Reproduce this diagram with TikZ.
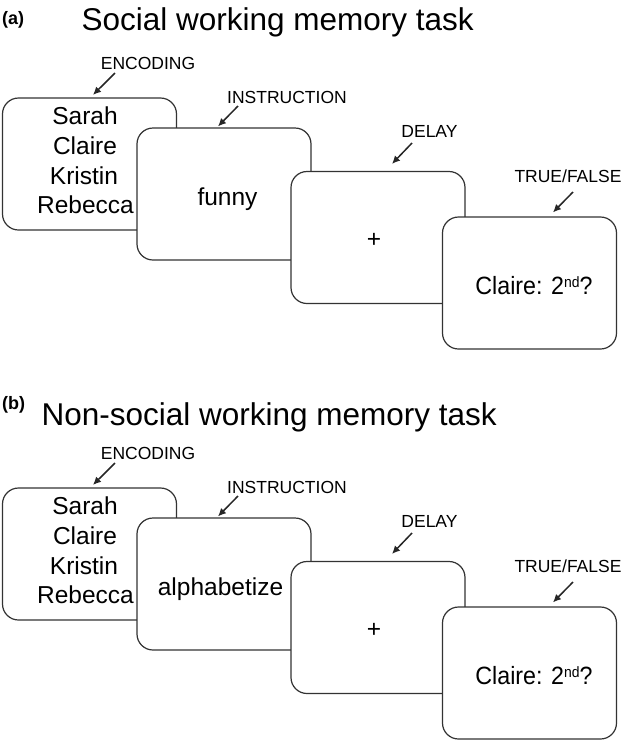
\documentclass[tikz,border=0pt]{standalone}
\usepackage{fontspec}
\setmainfont{Liberation Sans}
\usetikzlibrary{arrows.meta,calc}
\tikzset{
  card/.style={draw=black!80, line width=1.2pt, fill=white, rounded corners=16pt,
    minimum width=174pt, minimum height=132pt, inner sep=0pt},
  bigtxt/.style={font=\fontsize{24.5}{30}\selectfont, inner sep=0pt},
  steplabel/.style={font=\fontsize{17.5}{20}\selectfont, inner sep=0pt},
  pointer/.style={draw=black!85, line width=1.5pt, -{Latex[length=8pt,width=7.5pt]}},
  titletxt/.style={font=\fontsize{31.5}{36}\selectfont, inner sep=0pt, anchor=base west},
  paneltag/.style={font=\fontsize{18}{20}\selectfont\bfseries, inner sep=0pt, anchor=base west}
}
\newcommand{\qtext}{\scalebox{0.93}[1]{\fontsize{25}{28}\selectfont Claire: 2\raisebox{7.5pt}{\fontsize{15}{15}\selectfont nd}?}}
\newcommand{\taskpanel}[4]{% #1 prefix, #2 instruction word, #3 y offset, #4 word x
\begin{scope}[shift={(0,#3)}]
  % encoding card
  \node[card] (#1c1) at (89.5,164) {};
  \node[bigtxt, anchor=base] (#1n1) at (85,124) {Sarah};
  \node[bigtxt, anchor=base] (#1n2) at (85,154) {Claire};
  \node[bigtxt, anchor=base] (#1n3) at (84,184) {Kristin};
  \node[bigtxt, anchor=base] (#1n4) at (85.5,213.5) {Rebecca};
  \node[steplabel] (#1l1) at (148,63) {ENCODING};
  \draw[pointer] ($(#1l1.center)+(-33,10)$) -- ($(#1c1.north)+(3.5,-2.5)$);
  % instruction card
  \node[card] (#1c2) at (224,194) {};
  \node[bigtxt, anchor=base] (#1w) at (#4,205) {#2};
  \node[steplabel] (#1l2) at (287,97) {INSTRUCTION};
  \draw[pointer] ($(#1l2.center)+(-49,9)$) -- ($(#1c2.north)+(-6,-1)$);
  % delay card
  \node[card] (#1c3) at (378,237.5) {};
  \node[bigtxt] (#1plus) at (374,240) {+};
  \node[steplabel] (#1l3) at (429.5,131) {DELAY};
  \draw[pointer] ($(#1l3.center)+(-17.5,12)$) -- ($(#1c3.north)+(14,-7)$);
  % true/false card
  \node[card] (#1c4) at (529.5,283) {};
  \node[inner sep=0pt, anchor=base] (#1q) at (534,294.5) {\qtext};
  \node[steplabel] (#1l4) at (568,176) {TRUE/FALSE};
  \draw[pointer] ($(#1l4.center)+(5,16)$) -- ($(#1c4.north)+(23.5,-4)$);
\end{scope}}
\begin{document}
\begin{tikzpicture}[x=1pt, y=-1pt]
  \useasboundingbox (0,0) rectangle (630,740);
  \fill[white] (0,0) rectangle (630,740);
  \node[paneltag] (taga) at (2,24) {(a)};
  \node[titletxt] (titlea) at (81.5,30) {Social working memory task};
  \taskpanel{a}{funny}{0}{227.5}
  \node[paneltag] (tagb) at (2,409) {(b)};
  \node[titletxt] (titleb) at (41.5,425) {Non-social working memory task};
  \taskpanel{b}{alphabetize}{390}{220.5}
\end{tikzpicture}
\end{document}
